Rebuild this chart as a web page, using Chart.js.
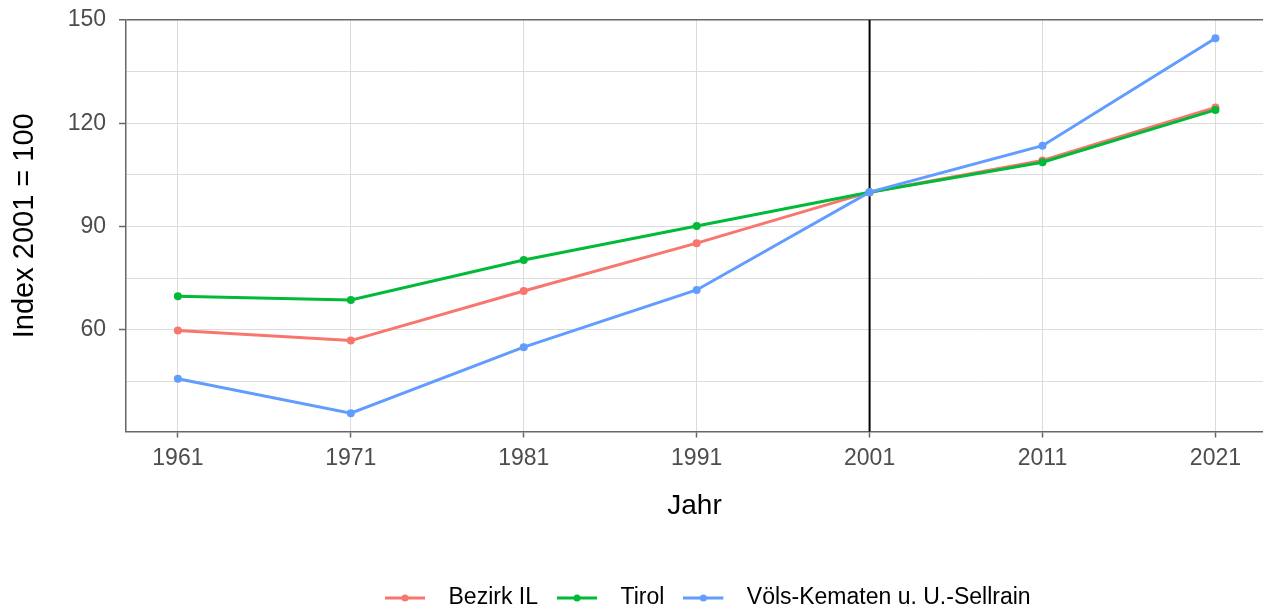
<!DOCTYPE html>
<html><head><meta charset="utf-8">
<script src="https://cdn.jsdelivr.net/npm/chart.js@4/dist/chart.umd.min.js"></script>
<style>
html,body{margin:0;padding:0;background:#fff;overflow:hidden;width:1263px;height:605px;}
canvas{display:block;}
</style></head><body>
<canvas id="c" width="1267" height="605" style="width:1267px;height:605px"></canvas>
<script>
const years = [1961, 1971, 1981, 1991, 2001, 2011, 2021];
const bezirkIL = [59.8, 56.9, 71.3, 85.2, 100, 109.2, 124.6];
const tirol = [69.8, 68.7, 80.3, 90.2, 100, 108.7, 123.9];
const voelsKematen = [45.8, 35.8, 55.0, 71.6, 100, 113.5, 144.7];
const seriesNames = ['Bezirk IL', 'Tirol', 'Völs-Kematen u. U.-Sellrain'];
const seriesColors = ['#F8766D', '#00BA38', '#619CFF'];
const yMajorTicks = [60, 90, 120, 150];
const yMinorTicks = [45, 75, 105, 135];
const referenceYear = 2001;
const xTitle = 'Jahr';
const yTitle = 'Index 2001 = 100';

const FONT = "'Liberation Sans', Arial, sans-serif";
const AXIS_GREY = '#666666';
const GRID_GREY = '#dcdcdc';

function legendIcon(color) {
  const c = document.createElement('canvas');
  c.width = 52; c.height = 12;
  const g = c.getContext('2d');
  g.strokeStyle = color; g.lineWidth = 3;
  g.beginPath(); g.moveTo(0, 6); g.lineTo(40, 6); g.stroke();
  g.fillStyle = color;
  g.beginPath(); g.arc(20, 6, 3.5, 0, Math.PI * 2); g.fill();
  return c;
}
const icons = seriesColors.map(legendIcon);

const seriesValues = [bezirkIL, tirol, voelsKematen];
const datasets = seriesValues.map((vals, i) => ({
  label: seriesNames[i],
  data: years.map((y, j) => ({x: y, y: vals[j]})),
  borderColor: seriesColors[i],
  backgroundColor: seriesColors[i],
  borderWidth: 3,
  pointRadius: 4,
  pointHoverRadius: 4,
  pointBorderWidth: 0,
  tension: 0,
  order: seriesValues.length - i
}));

const refLine = {
  id: 'refLine',
  beforeDatasetsDraw(chart) {
    const {ctx, chartArea: {top, bottom}, scales: {x}} = chart;
    const px = x.getPixelForValue(referenceYear);
    ctx.save();
    ctx.strokeStyle = '#000';
    ctx.lineWidth = 2;
    ctx.beginPath(); ctx.moveTo(px, top); ctx.lineTo(px, bottom); ctx.stroke();
    ctx.restore();
  }
};
const legendShift = {
  id: 'legendShift',
  afterLayout(chart) {
    const lg = chart.legend;
    const d = 366 - lg.left;
    lg.left += d; lg.right += d;
  }
};

new Chart(document.getElementById('c'), {
  type: 'line',
  data: {datasets},
  plugins: [refLine, legendShift],
  options: {
    responsive: false,
    animation: false,
    events: [],
    layout: {padding: {top: 20, left: 0, right: 0, bottom: -14.5}},
    scales: {
      x: {
        type: 'linear',
        min: 1958, max: 2023.75,
        afterBuildTicks: s => { s.ticks = years.map(v => ({value: v})); },
        afterFit: s => { s.height = 136; s.paddingLeft = 0; s.paddingRight = 0; },
        ticks: {
          callback: v => String(v),
          color: '#4d4d4d',
          font: {family: FONT, size: 23},
          padding: 7,
          maxRotation: 0,
          autoSkip: false
        },
        grid: {color: GRID_GREY, lineWidth: 1, tickColor: AXIS_GREY, tickLength: 6, tickWidth: 1.5},
        border: {display: true, color: AXIS_GREY, width: 1.5},
        title: {display: true, text: xTitle, color: '#000', font: {family: FONT, size: 28}, padding: {top: 0, bottom: 44}}
      },
      y: {
        type: 'linear',
        min: 30.5, max: 150,
        afterBuildTicks: s => { s.ticks = yMinorTicks.concat(yMajorTicks).sort((a, b) => a - b).map(v => ({value: v})); },
        afterFit: s => { s.width = 126; s.paddingTop = 0; s.paddingBottom = 0; },
        ticks: {
          callback: v => yMajorTicks.includes(v) ? String(v) : '',
          color: '#4d4d4d',
          font: {family: FONT, size: 23},
          padding: 13,
          autoSkip: false
        },
        grid: {
          color: c => (c.tick && c.tick.value === 150) ? AXIS_GREY : GRID_GREY,
          lineWidth: c => (c.tick && c.tick.value === 150) ? 1.5 : 1,
          tickColor: c => (c.tick && yMajorTicks.includes(c.tick.value)) ? AXIS_GREY : 'rgba(0,0,0,0)',
          tickLength: 7, tickWidth: 1.5
        },
        border: {display: true, color: AXIS_GREY, width: 1.5},
        title: {display: true, text: yTitle, color: '#000', font: {family: FONT, size: 29}, padding: {top: 8, bottom: 0}}
      }
    },
    plugins: {
      tooltip: {enabled: false},
      legend: {
        position: 'bottom',
        align: 'start',
        labels: {
          usePointStyle: true,
          pointStyleWidth: 52,
          padding: 19,
          color: '#000',
          font: {family: FONT, size: 23},
          sort: (a, b) => a.datasetIndex - b.datasetIndex,
          generateLabels: chart => {
            const items = Chart.defaults.plugins.legend.labels.generateLabels(chart);
            items.forEach(it => { it.pointStyle = icons[it.datasetIndex]; it.lineWidth = 0; });
            return items;
          }
        }
      }
    }
  }
});
</script>
</body></html>
